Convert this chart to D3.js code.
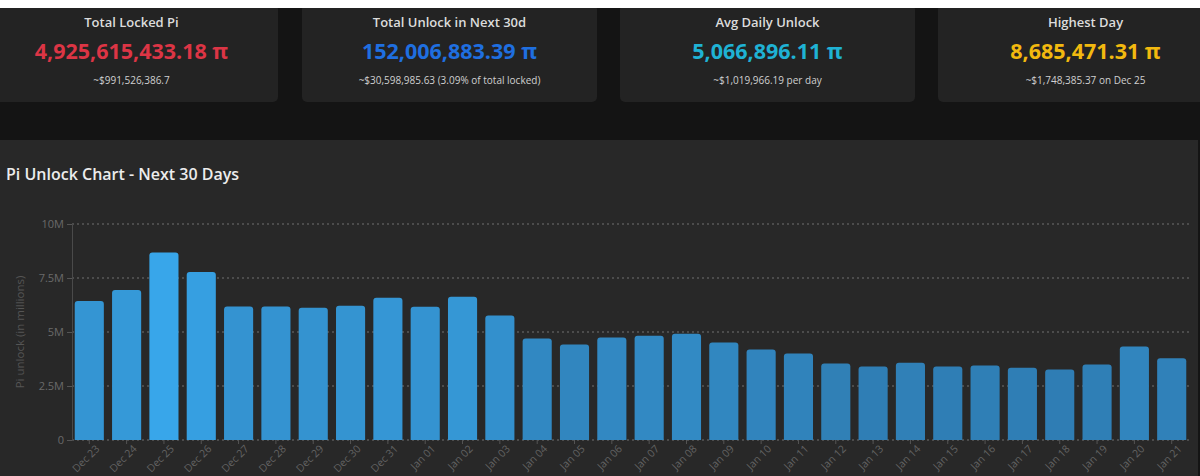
<!DOCTYPE html>
<html><head><meta charset="utf-8">
<script src="https://cdn.jsdelivr.net/npm/d3@7"></script>
<style>
html,body{margin:0;padding:0;background:#141414;}
svg{display:block;font-family:"Open Sans","Noto Sans",sans-serif;}
</style></head>
<body><svg id="c" width="1200" height="476"></svg>
<script>
const dates = ["Dec 23","Dec 24","Dec 25","Dec 26","Dec 27","Dec 28","Dec 29","Dec 30","Dec 31","Jan 01","Jan 02","Jan 03","Jan 04","Jan 05","Jan 06","Jan 07","Jan 08","Jan 09","Jan 10","Jan 11","Jan 12","Jan 13","Jan 14","Jan 15","Jan 16","Jan 17","Jan 18","Jan 19","Jan 20","Jan 21"];
const unlockValues = [6.44,6.94,8.685,7.78,6.18,6.18,6.12,6.22,6.58,6.17,6.63,5.76,4.70,4.42,4.74,4.83,4.92,4.51,4.19,4.00,3.54,3.40,3.58,3.40,3.45,3.35,3.26,3.49,4.33,3.78];
const yTicks = [0,2.5,5,7.5,10];
const yTickLabels = ["0","2.5M","5M","7.5M","10M"];
const cardTitles = ["Total Locked Pi","Total Unlock in Next 30d","Avg Daily Unlock","Highest Day"];
const cardValues = ["4,925,615,433.18 π","152,006,883.39 π","5,066,896.11 π","8,685,471.31 π"];
const cardSubs = ["~$991,526,386.7","~$30,598,985.63 (3.09% of total locked)","~$1,019,966.19 per day","~$1,748,385.37 on Dec 25"];
const cardColors = ["#dc3545","#1f6fe0","#1fb2d4","#f2b90f"];

const svg = d3.select("#c");
svg.append("rect").attr("x",0).attr("y",8).attr("width",1200).attr("height",132).attr("fill","#141414");

// cards
const cardX = [-17,302,620,938], cardW = 295;
cardTitles.forEach((t,i)=>{
  const g = svg.append("g");
  g.append("rect").attr("x",cardX[i]).attr("y",4).attr("width",cardW).attr("height",98).attr("rx",5).attr("fill","#232323");
  const cx = cardX[i]+cardW/2 + (i===0?1:0);
  g.append("text").attr("x",cx).attr("y",27).attr("text-anchor","middle").attr("fill","#dcdcdc").attr("font-size",13).attr("font-weight",600).text(t);
  g.append("text").attr("x",cx).attr("y",59).attr("text-anchor","middle").attr("fill",cardColors[i]).attr("font-size",21.5).attr("font-weight",700).text(cardValues[i]);
  g.append("text").attr("x",cx).attr("y",84).attr("text-anchor","middle").attr("fill","#d0d0d0").attr("font-size",10).text(cardSubs[i]);
});
svg.append("rect").attr("x",0).attr("y",0).attr("width",1200).attr("height",8).attr("fill","#ffffff");

// chart panel
svg.append("rect").attr("x",0).attr("y",140).attr("width",1198).attr("height",336).attr("fill","#282828");
svg.append("text").attr("x",6).attr("y",180).attr("fill","#ececec").attr("font-size",16).attr("font-weight",600).text("Pi Unlock Chart - Next 30 Days");

const x = d3.scaleBand().domain(dates).range([71,1190]).paddingInner(0.22).paddingOuter(0.1);
const y = d3.scaleLinear().domain([0,10]).range([440,224]);
const color = d3.scaleLinear().domain([3.2,8.7]).range(["#2f7db3","#38a6ea"]);

svg.append("g").selectAll("line").data(yTicks).join("line")
  .attr("x1",72).attr("x2",1192).attr("y1",d=>y(d)).attr("y2",d=>y(d))
  .attr("stroke","#707070").attr("stroke-width",1).attr("stroke-dasharray","2,3");

svg.append("g").selectAll("path").data(unlockValues).join("path")
  .attr("fill",d=>color(d))
  .attr("d",(d,i)=>{
    const x0=x(dates[i]), w=x.bandwidth(), y0=y(d), y1=y(0), r=3;
    return `M${x0},${y1}V${y0+r}Q${x0},${y0} ${x0+r},${y0}H${x0+w-r}Q${x0+w},${y0} ${x0+w},${y0+r}V${y1}Z`;
  });

const ya = svg.append("g").attr("transform","translate(72,0)")
  .call(d3.axisLeft(y).tickValues(yTicks).tickFormat((d,i)=>yTickLabels[i]).tickSize(5));
ya.select(".domain").attr("stroke","#4a4a4a");
ya.selectAll(".tick line").attr("stroke","#555");
ya.selectAll("text").attr("fill","#6a6a6a").attr("font-size",11).attr("font-family","Open Sans, sans-serif");

const xa = svg.append("g").attr("transform","translate(0,440)")
  .call(d3.axisBottom(x).tickSize(4));
xa.select(".domain").remove();
xa.selectAll(".tick line").attr("stroke","#555");
xa.selectAll("text").attr("fill","#636363").attr("font-size",10.5).attr("font-family","Open Sans, sans-serif")
  .attr("text-anchor","end").attr("dx","0.1em").attr("dy","0.7em")
  .attr("transform","rotate(-45)");

svg.append("text").attr("transform","translate(24,332) rotate(-90)").attr("text-anchor","middle")
  .attr("fill","#555").attr("font-size",11.5).text("Pi unlock (in millions)");
</script></body></html>
